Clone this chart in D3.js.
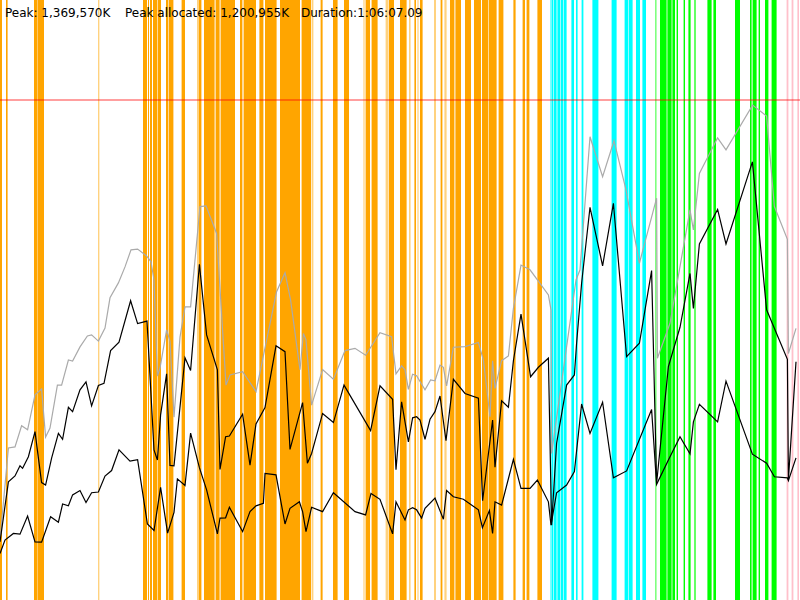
<!DOCTYPE html>
<html>
<head>
<meta charset="utf-8">
<script src="https://cdn.jsdelivr.net/npm/d3@7"></script>
<style>
  html, body { margin: 0; padding: 0; background: #fff; }
  svg { display: block; }
  .info { font-family: "DejaVu Sans", sans-serif; font-size: 12px; fill: #000; }
</style>
</head>
<body>
<div id="chart"></div>
<script>
// Time in seconds, memory in thousands of K

var durationSec = 4000;
var memMax = 1650;
var limitMem = 1375;

var infoLabels = ["Peak: 1,369,570K", "Peak allocated: 1,200,955K", "Duration:1:06:07.09"];
var infoOffsets = [0, 600, 1480];

// event spans [start, end] in seconds
var orangeSpans = [
    [0, 10], [30, 38], [170, 188], [190, 220], [715, 735], [740, 745], [750, 760],
    [765, 787], [790, 805], [830, 840], [843, 867], [908, 925], [995, 1007],
    [1020, 1073], [1078, 1098], [1103, 1175], [1200, 1212], [1218, 1280],
    [1297, 1317], [1325, 1383], [1400, 1500], [1508, 1555], [1603, 1613],
    [1665, 1688], [1720, 1745], [1828, 1850], [1858, 1888], [1945, 1970],
    [2000, 2033], [2072, 2080], [2100, 2113], [2203, 2212], [2250, 2272],
    [2277, 2305], [2325, 2355], [2370, 2405], [2410, 2442], [2445, 2483],
    [2493, 2517], [2567, 2578], [2613, 2625], [2633, 2647], [2687, 2710]
];
var orangeFaint = [
    [490, 497], [985, 995], [1558, 1567], [1817, 1823], [1928, 1943],
    [2045, 2053], [2087, 2093], [2170, 2180], [2222, 2233]
];
var cyanSpans = [
    [2758, 2767], [2770, 2783], [2787, 2800], [2803, 2817], [2820, 2833],
    [2857, 2870], [2880, 2888], [2908, 2917], [2962, 2992], [3058, 3083],
    [3123, 3142], [3145, 3163], [3180, 3200], [3212, 3230]
];
var cyanFaint = [[2750, 2758]];
var greenSpans = [
    [3300, 3333], [3337, 3358], [3362, 3375], [3383, 3390], [3418, 3425],
    [3442, 3453], [3472, 3478], [3537, 3558], [3567, 3580], [3675, 3700],
    [3750, 3758], [3763, 3783], [3793, 3800], [3825, 3842], [3858, 3883]
];
var greenFaint = [[3275, 3283]];
var pinkSpans = [[3933, 3942], [3958, 3967], [3987, 3995]];

// [seconds, memory]
var committed = [
    [0, 165], [42, 418], [75, 421], [108, 479], [138, 468], [175, 564], [208, 580],
    [228, 448], [250, 473], [287, 591], [308, 591], [342, 660], [363, 657], [400, 696],
    [437, 726], [458, 729], [492, 712], [525, 748], [550, 831], [592, 872], [625, 916],
    [655, 963], [688, 965], [733, 946], [755, 930], [770, 880], [787, 616], [800, 638],
    [833, 743], [850, 712], [870, 503], [900, 723], [925, 806], [953, 806], [1000, 1082],
    [1030, 1084], [1083, 1008], [1130, 591], [1150, 619], [1213, 628], [1280, 573],
    [1383, 848], [1425, 900], [1453, 825], [1500, 633], [1517, 733], [1530, 715],
    [1558, 536], [1613, 634], [1667, 607], [1725, 686], [1775, 692], [1828, 673],
    [1900, 735], [1958, 724], [1980, 622], [2008, 644], [2025, 633], [2042, 579],
    [2063, 621], [2083, 617], [2125, 578], [2153, 605], [2175, 603], [2200, 646],
    [2217, 640], [2233, 589], [2267, 695], [2325, 697], [2392, 708], [2417, 660],
    [2450, 504], [2463, 658], [2475, 582], [2508, 658], [2542, 671], [2567, 802],
    [2605, 921], [2650, 908], [2700, 871], [2742, 839], [2755, 798], [2758, 403],
    [2880, 880], [2900, 908], [2950, 1274], [3013, 1164], [3070, 1263], [3130, 1128],
    [3197, 926], [3283, 1105], [3287, 665], [3350, 761], [3450, 1073], [3467, 1018],
    [3497, 1173], [3588, 1271], [3630, 1238], [3763, 1361], [3833, 1331], [3872, 1082],
    [3937, 992], [3942, 678], [3980, 747]
];

var used = [
    [0, 160], [42, 325], [75, 341], [100, 369], [113, 362], [142, 394], [175, 463],
    [208, 323], [228, 316], [258, 390], [292, 458], [313, 442], [342, 530], [363, 518],
    [400, 578], [430, 600], [458, 534], [492, 590], [520, 596], [553, 686], [595, 709],
    [653, 823], [688, 760], [735, 767], [770, 413], [787, 385], [803, 509], [833, 622],
    [850, 370], [870, 369], [925, 666], [953, 631], [997, 923], [1033, 729], [1087, 633],
    [1100, 359], [1128, 449], [1147, 451], [1213, 511], [1250, 371], [1280, 484],
    [1325, 529], [1380, 699], [1425, 683], [1450, 414], [1513, 543], [1537, 376],
    [1558, 403], [1613, 513], [1667, 488], [1720, 591], [1853, 466], [1900, 589],
    [1963, 552], [1980, 358], [2008, 545], [2042, 435], [2063, 501], [2083, 504],
    [2100, 495], [2125, 442], [2150, 497], [2175, 518], [2200, 561], [2230, 438],
    [2267, 607], [2325, 568], [2392, 555], [2413, 273], [2463, 495], [2475, 365],
    [2508, 548], [2542, 530], [2567, 658], [2605, 786], [2653, 614], [2692, 640],
    [2742, 665], [2758, 206], [2783, 431], [2833, 591], [2872, 619], [2883, 706],
    [2908, 871], [2950, 1080], [3013, 919], [3067, 1091], [3133, 669], [3197, 706],
    [3258, 906], [3283, 321], [3342, 642], [3400, 750], [3450, 898], [3467, 802],
    [3497, 979], [3588, 1074], [3630, 979], [3762, 1205], [3833, 798], [3937, 662],
    [3942, 330], [3980, 655]
];

var allocated = [
    [0, 128], [25, 165], [67, 183], [100, 181], [138, 231], [175, 160], [208, 159],
    [253, 229], [292, 214], [313, 264], [342, 259], [363, 289], [400, 301], [430, 268],
    [458, 295], [492, 297], [525, 341], [558, 356], [595, 413], [650, 382], [688, 386],
    [737, 209], [770, 191], [803, 310], [838, 184], [870, 241], [887, 333], [925, 315],
    [953, 459], [997, 364], [1033, 303], [1087, 182], [1100, 225], [1128, 226],
    [1147, 255], [1213, 188], [1250, 243], [1280, 259], [1317, 266], [1325, 348],
    [1380, 344], [1425, 209], [1450, 252], [1497, 270], [1513, 243], [1530, 188],
    [1558, 255], [1613, 243], [1667, 295], [1775, 243], [1828, 234], [1855, 293],
    [1900, 277], [1963, 182], [1980, 270], [2025, 220], [2042, 248], [2063, 254],
    [2083, 248], [2108, 225], [2125, 252], [2175, 280], [2217, 222], [2233, 301],
    [2267, 284], [2317, 277], [2392, 248], [2412, 199], [2447, 246], [2463, 183],
    [2475, 270], [2508, 261], [2567, 387], [2605, 307], [2650, 307], [2687, 330],
    [2742, 270], [2755, 206], [2783, 295], [2833, 316], [2872, 353], [2908, 539],
    [2950, 458], [3013, 544], [3067, 336], [3133, 355], [3258, 524], [3283, 318],
    [3342, 385], [3400, 449], [3450, 402], [3467, 490], [3497, 538], [3588, 490],
    [3630, 602], [3762, 401], [3833, 376], [3872, 339], [3937, 336], [3942, 328],
    [3980, 391]
];

var svgWidth = 800;
var svgHeight = 600;

var svg = d3.select("#chart")
    .append("svg")
    .attr("width", svgWidth)
    .attr("height", svgHeight);

var xScale = d3.scaleLinear()
    .domain([0, durationSec])
    .range([0, svgWidth]);

var yScale = d3.scaleLinear()
    .domain([0, memMax])
    .range([svgHeight, 0]);

// Draw one group of event spans
function drawSpans(spans, color, opacity) {
    svg.append("g")
        .selectAll("rect")
        .data(spans)
        .enter()
        .append("rect")
        .attr("x", d => xScale(d[0]))
        .attr("y", 0)
        .attr("width", d => Math.max(xScale(d[1]) - xScale(d[0]), 1))
        .attr("height", svgHeight)
        .attr("fill", color)
        .attr("fill-opacity", opacity);
}

drawSpans(orangeSpans, "#ffa500", 1);
drawSpans(orangeFaint, "#ffa500", 0.5);
drawSpans(cyanSpans, "#00ffff", 1);
drawSpans(cyanFaint, "#00ffff", 0.5);
drawSpans(greenSpans, "#00ff00", 1);
drawSpans(greenFaint, "#00ff00", 0.5);
drawSpans(pinkSpans, "#ffc0cb", 1);

// Limit line
svg.append("line")
    .attr("x1", 0)
    .attr("x2", svgWidth)
    .attr("y1", yScale(limitMem))
    .attr("y2", yScale(limitMem))
    .attr("stroke", "#ff0000")
    .attr("stroke-opacity", 0.5)
    .attr("stroke-width", 1.5);

var line = d3.line()
    .x(d => xScale(d[0]))
    .y(d => yScale(d[1]));

svg.append("path")
    .datum(committed)
    .attr("d", line)
    .attr("fill", "none")
    .attr("stroke", "#aaaaaa")
    .attr("stroke-width", 1.2);

svg.append("path")
    .datum(used)
    .attr("d", line)
    .attr("fill", "none")
    .attr("stroke", "#000")
    .attr("stroke-width", 1.2);

svg.append("path")
    .datum(allocated)
    .attr("d", line)
    .attr("fill", "none")
    .attr("stroke", "#000")
    .attr("stroke-width", 1.2);

// Header text
svg.append("g")
    .selectAll("text")
    .data(infoLabels)
    .enter()
    .append("text")
    .attr("class", "info")
    .attr("x", (d, i) => 5 + xScale(infoOffsets[i]))
    .attr("y", 17)
    .text(d => d);
</script>
</body>
</html>
